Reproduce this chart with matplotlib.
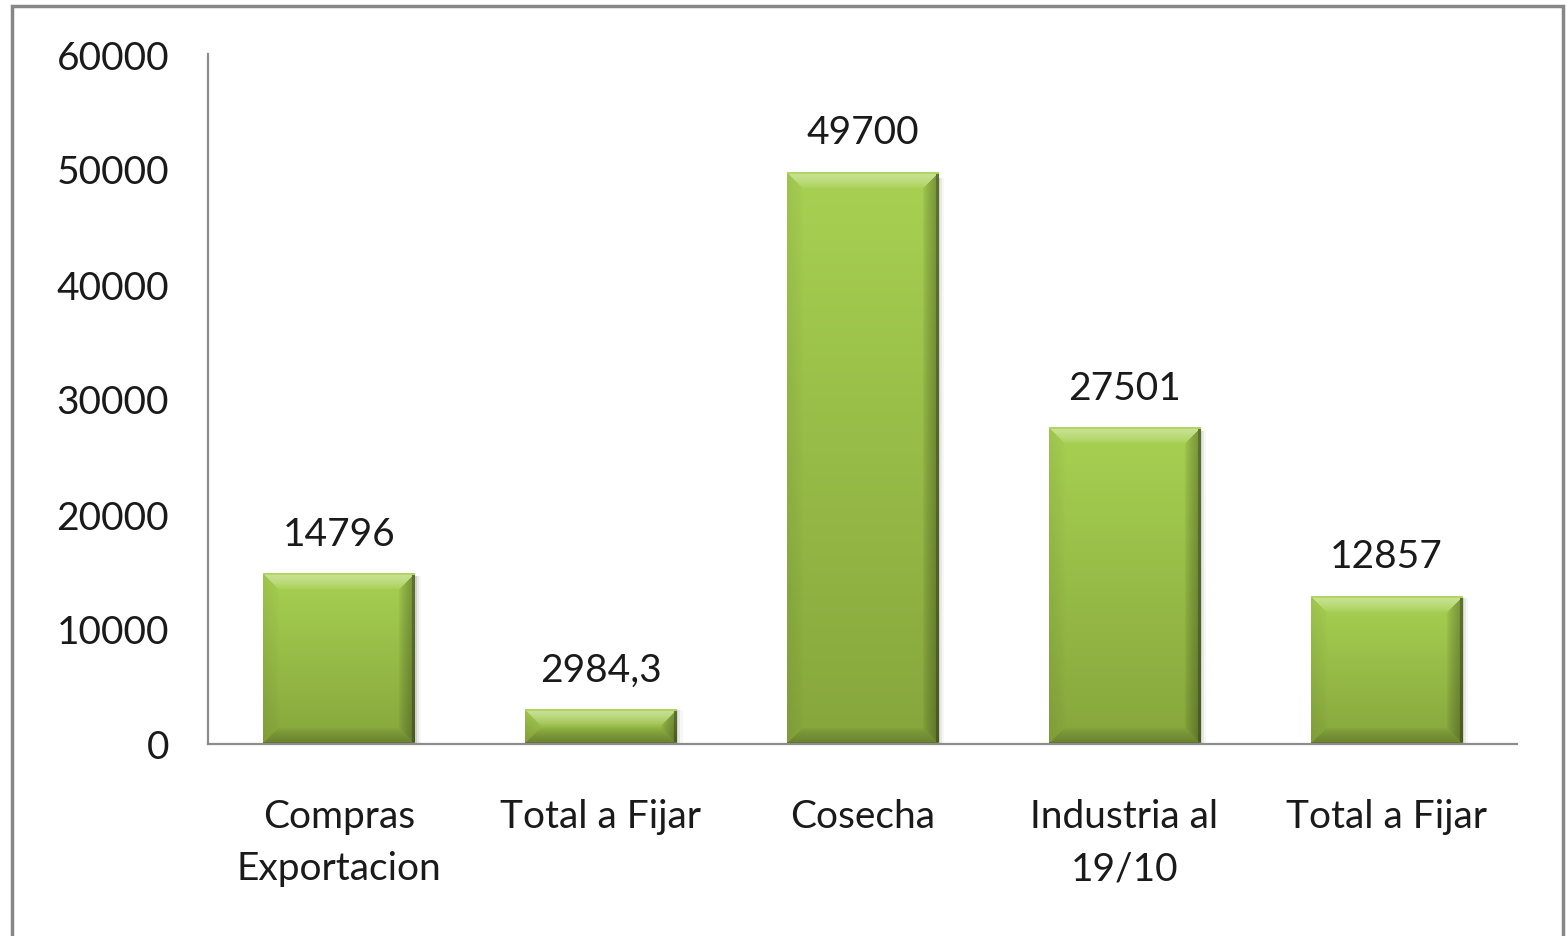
import numpy as np
import matplotlib
matplotlib.use("Agg")
import matplotlib.pyplot as plt
from matplotlib.patches import Rectangle

categories = ["Compras\nExportacion", "Total a Fijar", "Cosecha", "Industria al\n19/10", "Total a Fijar"]
values = [14796, 2984.3, 49700, 27501, 12857]
value_labels = ["14796", "2984,3", "49700", "27501", "12857"]
yticks = [0, 10000, 20000, 30000, 40000, 50000, 60000]

W, H = 1567, 937
fig = plt.figure(figsize=(W / 100, H / 100), dpi=100)
plt.rcParams['font.family'] = ['Lato', 'DejaVu Sans']
FS = 28
TC = "#1a1a1a"

ax = fig.add_axes([208 / W, 192 / H, (1517 - 208) / W, (745 - 55) / H])
ax.set_xlim(-0.5, len(values) - 0.5)
ax.set_ylim(0, 60000)
for s in ["top", "right"]:
    ax.spines[s].set_visible(False)
for s in ["left", "bottom"]:
    ax.spines[s].set_color("#8c8c8c")
    ax.spines[s].set_linewidth(1.6)
ax.set_yticks(yticks)
ax.set_yticklabels([str(t) for t in yticks])
ax.set_xticks(range(len(categories)))
ax.set_xticklabels(categories, linespacing=1.55)
ax.tick_params(axis="y", length=0, pad=28, labelsize=FS, labelcolor=TC)
ax.tick_params(axis="x", length=0, pad=39, labelsize=FS, labelcolor=TC)

bw = 0.577
bars = ax.bar(range(len(values)), values, width=bw, color="none", edgecolor="none", zorder=2)

top_c = np.array([0xa8, 0xd1, 0x52]) / 255
bot_c = np.array([0x86, 0xa6, 0x3c]) / 255
fig.canvas.draw()
for b in bars:
    x0, y0 = b.get_x(), b.get_y()
    x1, y1 = x0 + b.get_width(), y0 + b.get_height()
    p0 = ax.transData.transform((x0, y0))
    p1 = ax.transData.transform((x1, y1))
    pw = max(int(round(p1[0] - p0[0])), 2)
    ph = max(int(round(p1[1] - p0[1])), 2)
    yy, xx = np.mgrid[0:ph, 0:pw]
    t = yy / max(ph - 1, 1)
    img = top_c[None, None, :] * (1 - t[..., None]) + bot_c[None, None, :] * t[..., None]
    bev = 16
    dt, db, dl, dr = yy, ph - 1 - yy, xx, pw - 1 - xx
    dmin = np.minimum(np.minimum(dt, db), np.minimum(dl, dr))
    inband = dmin < bev
    fall = (1 - dmin / bev).clip(0, 1) ** 0.7
    img2 = img.copy()
    m_t = inband & (dt == dmin)
    m_b = inband & (db == dmin) & ~m_t
    m_l = inband & (dl == dmin) & ~m_t & ~m_b
    m_r = inband & (dr == dmin) & ~m_t & ~m_b & ~m_l
    img2[m_t] = img[m_t] + (1 - img[m_t]) * 0.40 * fall[m_t][:, None]
    img2[m_l] = img[m_l] * (1 - 0.06 * fall[m_l][:, None])
    img2[m_b] = img[m_b] * (1 - 0.22 * fall[m_b][:, None])
    img2[m_r] = img[m_r] * (1 - 0.30 * fall[m_r][:, None])
    edge = (dr < 3)
    img2[edge] = img[edge] * 0.55
    img2[db < 2] = img[db < 2] * 0.7
    img2[dt < 2] = img[dt < 2] * 0.9 + 0.1
    ax.imshow(img2.clip(0, 1), extent=(x0, x1, y0, y1), aspect="auto", zorder=2, interpolation="bilinear")
    for k, a in enumerate([0.10, 0.06, 0.03]):
        ax.add_patch(Rectangle((x1, y0), (k + 1) * 0.008, (y1 - y0) * 0.99, color="#000000",
                               alpha=a, lw=0, zorder=1))

for i, (v, lab) in enumerate(zip(values, value_labels)):
    ax.annotate(lab, (i, v), xytext=(0, 16), textcoords="offset points", ha="center", va="bottom",
                fontsize=FS, color=TC)

ax.set_xlim(-0.5, len(values) - 0.5)
ax.set_ylim(0, 60000)

fig.patches.append(Rectangle((12 / W, -0.05), (1563 - 12) / W, (937 - 7) / H + 0.05,
                             transform=fig.transFigure, fill=False, edgecolor="#878787",
                             linewidth=2.5, zorder=0))

fig.savefig("out.png", dpi=100)
